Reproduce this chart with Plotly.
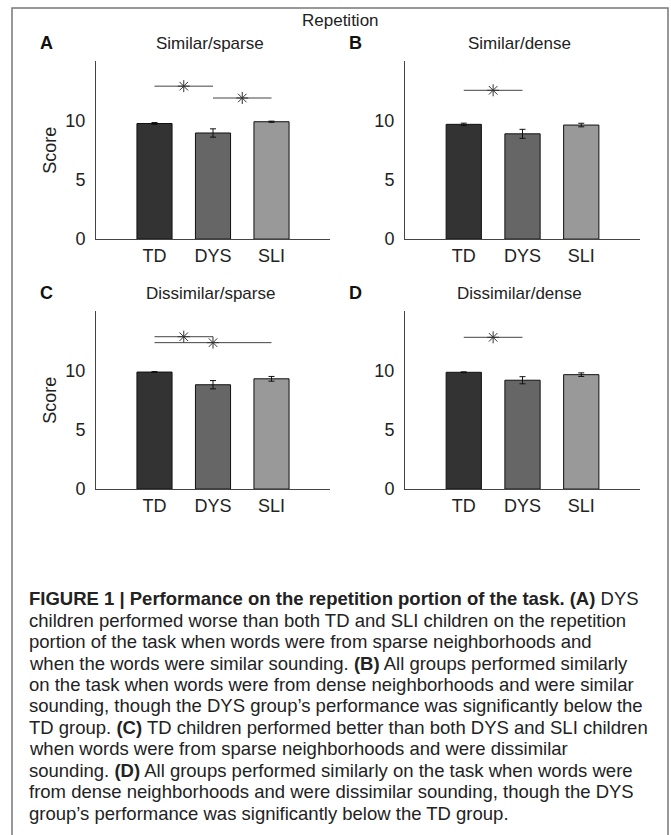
import plotly.graph_objects as go

W, H = 671, 835

groups = ["TD", "DYS", "SLI"]
bar_colors = ["#333333", "#666666", "#999999"]

panel_letters = ["A", "B", "C", "D"]
panel_titles = ["Similar/sparse", "Similar/dense", "Dissimilar/sparse", "Dissimilar/dense"]

means_A = [9.75, 8.95, 9.90]
err_A = [0.08, 0.35, 0.05]
means_B = [9.68, 8.88, 9.62]
err_B = [0.10, 0.38, 0.15]
means_C = [9.87, 8.80, 9.30]
err_C = [0.04, 0.35, 0.20]
means_D = [9.85, 9.18, 9.65]
err_D = [0.04, 0.30, 0.15]

# significance brackets: (group from, group to, height)
sig_A = [("TD", "DYS", 12.9), ("DYS", "SLI", 11.9)]
sig_B = [("TD", "DYS", 12.55)]
sig_C = [("TD", "DYS", 12.85), ("TD", "SLI", 12.35)]
sig_D = [("TD", "DYS", 12.8)]

y_ticks = [0, 5, 10]
y_max = 15

caption_lines = [
    "<b>FIGURE 1 | Performance on the repetition portion of the task. (A)</b> DYS",
    "children performed worse than both TD and SLI children on the repetition",
    "portion of the task when words were from sparse neighborhoods and",
    "when the words were similar sounding. <b>(B)</b> All groups performed similarly",
    "on the task when words were from dense neighborhoods and were similar",
    "sounding, though the DYS group\u2019s performance was significantly below the",
    "TD group. <b>(C)</b> TD children performed better than both DYS and SLI children",
    "when words were from sparse neighborhoods and were dissimilar",
    "sounding. <b>(D)</b> All groups performed similarly on the task when words were",
    "from dense neighborhoods and were dissimilar sounding, though the DYS",
    "group\u2019s performance was significantly below the TD group.",
]

means = [means_A, means_B, means_C, means_D]
errs = [err_A, err_B, err_C, err_D]
sigs = [sig_A, sig_B, sig_C, sig_D]

FONT = "Liberation Sans, Arial, sans-serif"
CAP_FONT = "Liberation Sans, Arial, sans-serif"

def px_x(p):
    return p / W

def px_y(p):
    return 1 - p / H

# axes pixel boxes (left, right, top, bottom)
boxes = [
    (96, 330, 62, 242),
    (405, 640, 62, 242),
    (96, 330, 315, 495),
    (405, 640, 315, 495),
]

pos = {g: i + 1 for i, g in enumerate(groups)}
xpos = [pos[g] for g in groups]

fig = go.Figure()
layout = dict(
    width=W, height=H,
    margin=dict(l=0, r=0, t=0, b=0),
    paper_bgcolor="white", plot_bgcolor="white",
    showlegend=False,
    font=dict(family=FONT, color="#222222"),
)

annotations = []
shapes = []

for k in range(4):
    xa = "x" if k == 0 else f"x{k+1}"
    ya = "y" if k == 0 else f"y{k+1}"
    xname = "xaxis" if k == 0 else f"xaxis{k+1}"
    yname = "yaxis" if k == 0 else f"yaxis{k+1}"
    l, r, t, b = boxes[k]
    layout[xname] = dict(
        domain=[px_x(l), px_x(r)], anchor=ya, range=[0, len(groups) + 1],
        tickvals=xpos, ticktext=groups, showline=True, linecolor="#444444",
        linewidth=1, showgrid=False, zeroline=False, ticks="",
        tickfont=dict(size=18, color="#222222", family=FONT),
    )
    layout[yname] = dict(
        domain=[px_y(b), px_y(t)], anchor=xa, range=[0, y_max],
        tickvals=y_ticks, showline=True, linecolor="#444444", linewidth=1,
        showgrid=False, zeroline=False, ticks="", ticklabelstandoff=6,
        tickfont=dict(size=18, color="#222222", family=FONT),
    )
    if k in (0, 2):
        layout[yname]["title"] = dict(text="Score", font=dict(size=18, family=FONT, color="#222222"), standoff=4)

    fig.add_trace(go.Bar(
        x=xpos, y=means[k], width=0.6, xaxis=xa, yaxis=ya,
        marker=dict(color=bar_colors, line=dict(color="#111111", width=1)),
        error_y=dict(type="data", array=errs[k], color="#111111", thickness=1, width=3),
    ))
    for (g1, g2, h) in sigs[k]:
        fig.add_trace(go.Scatter(
            x=[pos[g1], pos[g2]], y=[h, h], mode="lines", xaxis=xa, yaxis=ya,
            line=dict(color="#444444", width=1), hoverinfo="skip",
        ))
        fig.add_trace(go.Scatter(
            x=[(pos[g1] + pos[g2]) / 2], y=[h], mode="markers", xaxis=xa, yaxis=ya,
            marker=dict(symbol="asterisk-open", size=10, color="#333333",
                        line=dict(color="#333333", width=1)),
            hoverinfo="skip",
        ))
    # panel letter and title
    annotations.append(dict(
        text=f"<b>{panel_letters[k]}</b>", x=px_x(l - 50), y=px_y(t - 18),
        xref="paper", yref="paper", showarrow=False, xanchor="center", yanchor="middle",
        font=dict(size=18, family=FONT, color="#111111"),
    ))
    annotations.append(dict(
        text=panel_titles[k], x=px_x((l + r) / 2 - 3), y=px_y(t - 18),
        xref="paper", yref="paper", showarrow=False, xanchor="center", yanchor="middle",
        font=dict(size=17, family=FONT, color="#222222"),
    ))

annotations.append(dict(
    text="Repetition", x=px_x(340), y=px_y(21), xref="paper", yref="paper",
    showarrow=False, xanchor="center", yanchor="middle",
    font=dict(size=17, family=FONT, color="#222222"),
))

for i, line in enumerate(caption_lines):
    annotations.append(dict(
        text=line, x=px_x(27), y=px_y(606 + i * 21.7), xref="paper", yref="paper",
        showarrow=False, xanchor="left", yanchor="middle",
        font=dict(size=18.5, family=CAP_FONT, color="#222222"),
    ))

shapes.append(dict(
    type="rect", xref="paper", yref="paper",
    x0=px_x(12), x1=px_x(668), y0=-0.02, y1=px_y(8),
    line=dict(color="#777777", width=1.5), fillcolor="rgba(0,0,0,0)",
))

layout["annotations"] = annotations
layout["shapes"] = shapes
fig.update_layout(**layout)
fig.write_html("out.html", config={"displayModeBar": False},
               post_script="document.body.style.margin='0';")
